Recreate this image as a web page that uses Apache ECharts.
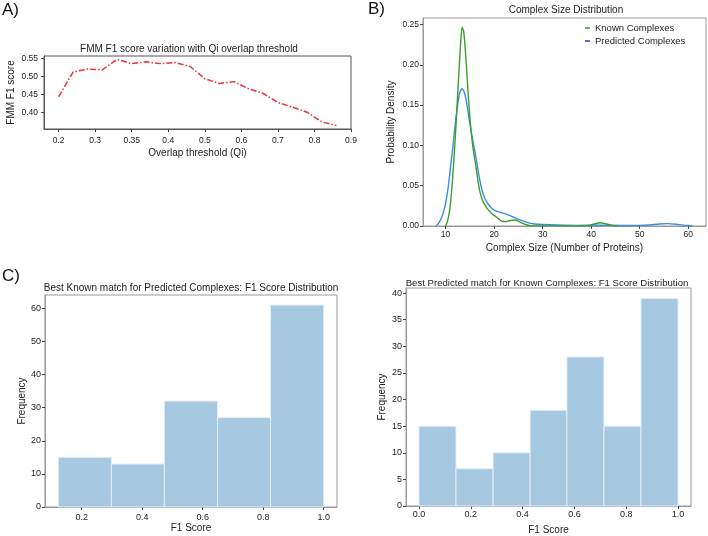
<!DOCTYPE html>
<html>
<head>
<meta charset="utf-8">
<script src="https://cdn.jsdelivr.net/npm/echarts@6/dist/echarts.min.js"></script>
<style>
html,body{margin:0;padding:0;background:#fff;}
#chart{width:708px;height:536px;}
</style>
</head>
<body>
<div id="chart"></div>
<script>
// ---------- Panel A data ----------
const thresholds = [0.20,0.24,0.28,0.32,0.36,0.40,0.44,0.48,0.52,0.56,0.60,0.64,0.68,0.72,0.76,0.80,0.84,0.88,0.92,0.96];
const fmmF1 = [0.443,0.512,0.520,0.518,0.547,0.535,0.540,0.535,0.538,0.527,0.493,0.480,0.485,0.465,0.452,0.427,0.414,0.400,0.373,0.363];
const aTickValues = [0.2,0.3,0.4,0.5,0.6,0.7,0.8,0.9,1.0];
const aTickLabels = ['0.2','0.3','0.35','0.4','0.5','0.6','0.7','0.8','0.9'];
const aYTicks = [0.40,0.45,0.50,0.55];

// ---------- Panel B data (KDE curves) ----------
const knownX = [10.0,10.4,10.8,11.2,11.6,12.0,12.4,12.8,13.1,13.4,13.7,14.0,14.3,14.7,15.1,15.5,15.9,16.3,16.7,17.1,17.6,18.2,18.8,19.6,20.4,21.2,21.8,22.5,23.3,24.2,25.0,25.8,26.6,27.5,29,33,38,39.5,40.8,41.9,43.0,44.2,45.4];
const knownY = [0.000,0.006,0.018,0.040,0.072,0.110,0.153,0.196,0.226,0.2466,0.242,0.224,0.198,0.160,0.128,0.104,0.087,0.072,0.055,0.042,0.032,0.025,0.020,0.015,0.0115,0.0075,0.0055,0.0055,0.0068,0.0075,0.006,0.0035,0.0015,0.0005,0.0002,0.0001,0.0002,0.0008,0.0028,0.0041,0.0028,0.0008,0.0];
const predX = [8.0,8.5,9.0,9.5,10.0,10.5,11.0,11.5,12.0,12.5,12.9,13.4,13.9,14.4,14.9,15.4,15.9,16.4,16.9,17.5,18.1,18.8,19.5,20.2,21.0,21.8,22.6,23.4,24.2,25.2,26.3,27.3,28.3,30,33,37,42,46,50,52,54,55.7,57.5,59.2,60.8];
const predY = [0.000,0.003,0.008,0.016,0.028,0.046,0.072,0.098,0.127,0.151,0.165,0.1704,0.165,0.151,0.131,0.113,0.097,0.080,0.062,0.045,0.034,0.027,0.022,0.019,0.0175,0.016,0.0145,0.0125,0.0105,0.008,0.0055,0.0035,0.0025,0.0018,0.0012,0.0008,0.001,0.0007,0.0008,0.0013,0.0024,0.0029,0.0022,0.001,0.0];
const bXTicks = [10,20,30,40,50,60];
const bYTicks = [0,0.05,0.10,0.15,0.20,0.25];

// ---------- Panel C data (histograms) ----------
const cLeftEdges = [0.1224,0.298,0.473,0.649,0.824,1.0];
const cLeftCounts = [15,13,32,27,61];
const cLeftXTicks = [0.2,0.4,0.6,0.8,1.0];
const cLeftYTicks = [0,10,20,30,40,50,60];
const cRightEdges = [0.0,0.143,0.286,0.429,0.571,0.714,0.857,1.0];
const cRightCounts = [15,7,10,18,28,15,39];
const cRightXTicks = [0.0,0.2,0.4,0.6,0.8,1.0];
const cRightYTicks = [0,5,10,15,20,25,30,35,40];

const FONT = '"Liberation Sans", Arial, sans-serif';
const TXT = '#222';

function pairs(xs, ys){ return xs.map((x,i)=>[x, ys[i]]); }
function bins(edges, counts){ return counts.map((c,i)=>[edges[i], edges[i+1], c]); }

function valueAxis(opts){
  return {
    type:'value', gridIndex:opts.grid, min:opts.min, max:opts.max,
    scale:true,
    axisLine:{show:true, onZero:false, lineStyle:{color:opts.lineColor||'#666', width:1}},
    axisTick:{show:true, length:3, lineStyle:{color:'#444'}, customValues:opts.ticks},
    axisLabel:{show:true, color:TXT, fontFamily:FONT, fontSize:opts.fontSize||8.5, margin:opts.margin,
               customValues:opts.ticks, formatter:opts.formatter},
    splitLine:{show:false},
    name:opts.name, nameLocation:'middle', nameGap:opts.nameGap,
    nameTextStyle:{color:TXT, fontFamily:FONT, fontSize:10}
  };
}

function histRender(params, api){
  const p0 = api.coord([api.value(0), api.value(2)]);
  const p1 = api.coord([api.value(1), 0]);
  return {
    type:'rect',
    shape:{x:p0[0], y:p0[1], width:p1[0]-p0[0], height:p1[1]-p0[1]},
    style:{fill:'#a6c8e1', stroke:'#e4eef6', lineWidth:1}
  };
}

const chart = echarts.init(document.getElementById('chart'), null, {renderer:'canvas'});

const option = {
  backgroundColor:'#ffffff',
  animation:false,
  textStyle:{fontFamily:FONT},
  grid:[
    {left:44, top:56, width:307, height:73, show:true, borderColor:'#555', borderWidth:1, backgroundColor:'transparent'},
    {left:423, top:18, width:283, height:208, show:true, borderColor:'#999', borderWidth:1, backgroundColor:'transparent'},
    {left:45, top:295, width:292, height:212, show:true, borderColor:'#999', borderWidth:1, backgroundColor:'transparent'},
    {left:406, top:288, width:285, height:221, show:true, borderColor:'#999', borderWidth:1, backgroundColor:'transparent'}
  ],
  xAxis:[
    valueAxis({grid:0, min:0.16, max:1.0, ticks:aTickValues, margin:7, lineColor:'#555',
      formatter:(v)=>aTickLabels[Math.round((v-0.2)/0.1)],
      name:'Overlap threshold (Qi)', nameGap:19}),
    valueAxis({grid:1, min:5.35, max:63.65, ticks:bXTicks, margin:4, lineColor:'#999',
      formatter:(v)=>String(v), name:'Complex Size (Number of Proteins)', nameGap:17}),
    valueAxis({grid:2, min:0.0785, max:1.0439, ticks:cLeftXTicks, margin:6, lineColor:'#999', fontSize:9,
      formatter:(v)=>v.toFixed(1), name:'F1 Score', nameGap:14}),
    valueAxis({grid:3, min:-0.05, max:1.05, ticks:cRightXTicks, margin:4, lineColor:'#999', fontSize:9,
      formatter:(v)=>v.toFixed(1), name:'F1 Score', nameGap:19})
  ],
  yAxis:[
    valueAxis({grid:0, min:0.3534, max:0.5562, ticks:aYTicks, margin:6, lineColor:'#555',
      formatter:(v)=>v.toFixed(2), name:'FMM F1 score', nameGap:28}),
    valueAxis({grid:1, min:0, max:0.258, ticks:bYTicks, margin:4, lineColor:'#999',
      formatter:(v)=>v.toFixed(2), name:'Probability Density', nameGap:27}),
    valueAxis({grid:2, min:0, max:64.05, ticks:cLeftYTicks, margin:4, lineColor:'#999', fontSize:9,
      formatter:(v)=>String(v), name:'Frequency', nameGap:17}),
    valueAxis({grid:3, min:0, max:40.95, ticks:cRightYTicks, margin:4, lineColor:'#999', fontSize:9,
      formatter:(v)=>String(v), name:'Frequency', nameGap:19})
  ],
  legend:{
    left:580, top:18, orient:'vertical', itemWidth:5, itemHeight:1.5, itemGap:3, icon:'rect',
    textStyle:{color:TXT, fontFamily:FONT, fontSize:9.5},
    data:[
      {name:'Known Complexes', itemStyle:{color:'#3a9e2a'}},
      {name:'Predicted Complexes', itemStyle:{color:'#2a2aff'}}
    ]
  },
  series:[
    {type:'line', xAxisIndex:0, yAxisIndex:0, data:pairs(thresholds, fmmF1), showSymbol:false,
     lineStyle:{color:'#e8323c', width:1.5, type:[6,2,1.5,2]}, itemStyle:{color:'#e8323c'}},
    {name:'Known Complexes', type:'line', xAxisIndex:1, yAxisIndex:1, data:pairs(knownX, knownY), showSymbol:false,
     smooth:0.25, lineStyle:{color:'#3a9e2a', width:1.4}, itemStyle:{color:'#3a9e2a'}},
    {name:'Predicted Complexes', type:'line', xAxisIndex:1, yAxisIndex:1, data:pairs(predX, predY), showSymbol:false,
     smooth:0.25, z:1, lineStyle:{color:'#3a8ed8', width:1.4}, itemStyle:{color:'#3a8ed8'}},
    {type:'custom', xAxisIndex:2, yAxisIndex:2, data:bins(cLeftEdges, cLeftCounts), encode:{x:[0,1], y:2}, renderItem:histRender},
    {type:'custom', xAxisIndex:3, yAxisIndex:3, data:bins(cRightEdges, cRightCounts), encode:{x:[0,1], y:2}, renderItem:histRender}
  ],
  graphic:[
    {type:'text', left:2, top:2, style:{text:'A)', font:'17px '+FONT, fill:'#111'}},
    {type:'text', left:368, top:1, style:{text:'B)', font:'17px '+FONT, fill:'#111'}},
    {type:'text', left:2, top:268, style:{text:'C)', font:'17px '+FONT, fill:'#111'}},
    {type:'text', x:189, y:49, style:{text:'FMM F1 score variation with Qi overlap threshold', font:'10px '+FONT, fill:TXT, align:'center', verticalAlign:'middle'}},
    {type:'text', x:566, y:10, style:{text:'Complex Size Distribution', font:'10px '+FONT, fill:TXT, align:'center', verticalAlign:'middle'}},
    {type:'text', x:191, y:288, style:{text:'Best Known match for Predicted Complexes: F1 Score Distribution', font:'10px '+FONT, fill:TXT, align:'center', verticalAlign:'middle'}},
    {type:'text', x:547, y:283, style:{text:'Best Predicted match for Known Complexes: F1 Score Distribution', font:'9.6px '+FONT, fill:TXT, align:'center', verticalAlign:'middle'}}
  ]
};
chart.setOption(option);
</script>
</body>
</html>
